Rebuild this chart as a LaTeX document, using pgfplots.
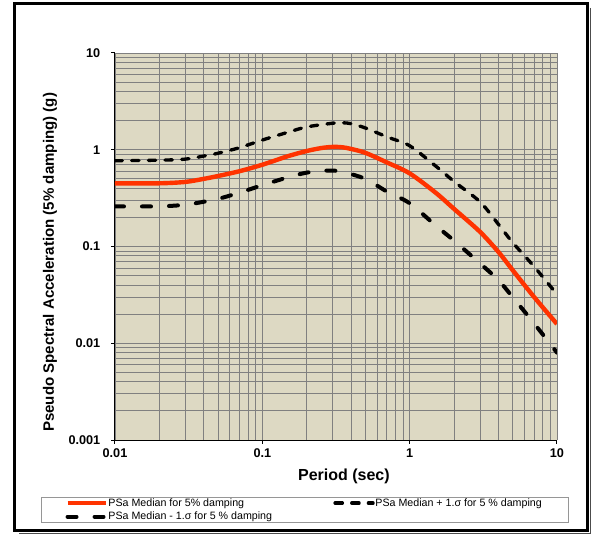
\documentclass[border=0pt]{standalone}
\usepackage{fontspec}
\setmainfont{Liberation Sans}
\usepackage{pgfplots}
\pgfplotsset{compat=1.18}

\definecolor{chartbg}{RGB}{221,217,195}
\definecolor{gridgray}{RGB}{128,128,128}
\definecolor{medred}{RGB}{255,51,0}
\definecolor{legframe}{RGB}{150,150,150}

\begin{document}
\begin{tikzpicture}
% white page
\fill[white] (-86.25pt,-72pt) rectangle (359.25pt,330pt);

\begin{axis}[
    at={(0,0)}, anchor=south west,
    scale only axis,
    width=331.5pt,
    height=290.25pt,
    xmode=log, ymode=log,
    xmin=0.01, xmax=10,
    ymin=0.001, ymax=10,
    xtick={0.01,0.1,1,10},
    xticklabels={0.01,0.1,1,10},
    ytick={0.001,0.01,0.1,1,10},
    yticklabels={0.001,0.01,0.1,1,10},
    minor xtick={0.02,0.03,0.04,0.05,0.06,0.07,0.08,0.09,
                 0.2,0.3,0.4,0.5,0.6,0.7,0.8,0.9,
                 2,3,4,5,6,7,8,9},
    minor ytick={0.002,0.003,0.004,0.005,0.006,0.007,0.008,0.009,
                 0.02,0.03,0.04,0.05,0.06,0.07,0.08,0.09,
                 0.2,0.3,0.4,0.5,0.6,0.7,0.8,0.9,
                 2,3,4,5,6,7,8,9},
    grid=both,
    major grid style={gridgray, line width=0.6pt},
    minor grid style={gridgray, line width=0.6pt},
    axis background/.style={fill=chartbg},
    axis x line*=bottom,
    axis y line*=left,
    axis line style={black, line width=0.75pt},
    tick align=outside,
    major tick length=3pt,
    minor tick length=0pt,
    tick style={black, line width=0.75pt},
    tick label style={font=\fontsize{9.5}{11}\selectfont\bfseries},
    yticklabel style={xshift=-4.5pt},
    /pgf/number format/assume math mode=true,
    xlabel={Period (sec)},
    ylabel={Pseudo Spectral Acceleration (5\% damping) (g)},
    xlabel style={font=\fontsize{12}{14}\selectfont\bfseries,
        at={(axis description cs:0.518,-0.093)}, anchor=center},
    ylabel style={font=\fontsize{11.3}{13}\selectfont\bfseries,
        at={(axis description cs:-0.147,0.459)}, anchor=center},
    legend columns=2,
    legend cell align=left,
    legend image code/.code={\draw[#1] (0pt,0pt) -- (28.5pt,0pt);},
    legend style={
        at={(axis description cs:-0.1674,-0.1473)}, anchor=north west,
        draw=legframe, line width=0.5pt,
        inner xsep=18pt, inner ysep=0.5pt,
        font=\fontsize{8}{9}\selectfont,
        row sep=2.5pt,
        nodes={inner sep=0pt, text height=6pt, text depth=1.7pt},
        /tikz/every odd column/.append style={column sep=0.5pt},
    },
]

% median
\addplot[medred, line width=3.3pt, smooth] coordinates {
    (0.01,0.45) (0.02,0.45) (0.03,0.465) (0.04,0.50) (0.05,0.535)
    (0.07,0.60) (0.1,0.70) (0.15,0.86) (0.2,0.97) (0.25,1.04)
    (0.3,1.07) (0.35,1.06) (0.4,1.02) (0.5,0.93) (0.7,0.74)
    (1.0,0.57) (1.5,0.36) (2,0.245) (3,0.142) (4,0.088)
    (5,0.057) (7,0.030) (10,0.0158)
};
\addlegendentry{\makebox[168.75pt][l]{PSa Median for 5\% damping}}

% median + 1 sigma
\addplot[black, line width=2.5pt, line cap=round, dash pattern=on 5.5pt off 7pt, smooth] coordinates {
    (0.01,0.77) (0.02,0.78) (0.03,0.80) (0.04,0.86) (0.05,0.92)
    (0.07,1.05) (0.1,1.26) (0.15,1.52) (0.2,1.72) (0.3,1.88)
    (0.35,1.90) (0.4,1.86) (0.5,1.68) (0.7,1.36) (1.0,1.10)
    (1.5,0.68) (2,0.47) (3,0.29) (4,0.17) (5,0.110)
    (7,0.062) (10,0.032)
};
\addlegendentry{\makebox[127pt][l]{PSa Median + 1.σ for 5 \% damping}}

% median - 1 sigma
\addplot[black, line width=3pt, line cap=round, dash pattern=on 6.75pt off 13.5pt, smooth] coordinates {
    (0.01,0.26) (0.02,0.26) (0.03,0.27) (0.04,0.29) (0.05,0.31)
    (0.07,0.36) (0.1,0.43) (0.15,0.52) (0.2,0.58) (0.28,0.61)
    (0.35,0.59) (0.5,0.50) (0.7,0.37) (1.0,0.28) (1.5,0.165)
    (2,0.115) (3,0.067) (4,0.045) (5,0.030) (7,0.016) (10,0.008)
};
\addlegendentry{\makebox[168.75pt][l]{PSa Median - 1.σ for 5 \% damping}}

\end{axis}

% chart frame
\draw[gray!60!black, line width=1pt] (356.6pt,324pt) -- (356.6pt,-70.1pt) -- (-72pt,-70.1pt);
\draw[black, line width=2.25pt] (-75pt,-68.25pt) rectangle (354pt,327pt);

\pgfresetboundingbox
\path[use as bounding box] (-86.25pt,-72pt) rectangle (359.25pt,330pt);
\end{tikzpicture}
\end{document}
